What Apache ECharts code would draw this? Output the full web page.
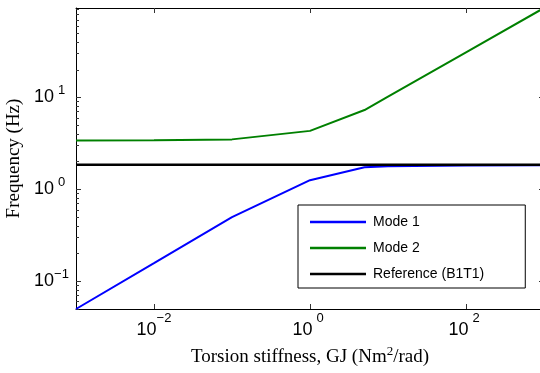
<!DOCTYPE html>
<html>
<head>
<meta charset="utf-8">
<script src="https://cdn.jsdelivr.net/npm/echarts@6/dist/echarts.min.js"></script>
<style>html,body{margin:0;padding:0;background:#fff}#c{width:540px;height:373px}</style>
</head>
<body>
<div id="c"></div>
<script>
// ---- data ----
const gj = [0.001, 0.01, 0.1, 1, 5, 10, 100, 1000];
const mode1 = [0.05, 0.158, 0.50, 1.26, 1.74, 1.79, 1.82, 1.83];
const mode2 = [3.41, 3.43, 3.50, 4.33, 7.3, 10.2, 31.0, 94];
const refGJ = [0.001, 1000];
const refFreq = [1.85, 1.85];
const seriesNames = ['Mode 1', 'Mode 2', 'Reference (B1T1)'];
const xTickValues = [0.01, 1, 100];
const yTickValues = [0.1, 1, 10];
const yMinorTickValues = [0.05,0.06,0.07,0.08,0.09,0.2,0.3,0.4,0.5,0.6,0.7,0.8,0.9,2,3,4,5,6,7,8,9,20,30,40,50,60,70,80,90];
const xRange = [0.001, 1000];
const yRange = [0.05, 94];

const pairs = (xs, ys) => xs.map((x, i) => [x, ys[i]]);
const SANS = '"Liberation Sans", Arial, Helvetica, sans-serif';
const SERIF = '"Liberation Serif", "Times New Roman", serif';

const powLabel = v => {
  const e = Math.round(Math.log10(v));
  return '{b|10}{s|' + (e < 0 ? '\u2212' + (-e) : e) + '}';
};
const makeRich = raise => ({
  b: { fontFamily: SANS, fontSize: 18, height: 18, color: '#000' },
  s: { fontFamily: SANS, fontSize: 13, height: 13, padding: [0, 0, 2 * raise, 0], width: 15, align: 'left', color: '#000' }
});

const axisLine = { show: true, lineStyle: { color: '#000', width: 1 } };

const option = {
  animation: false,
  backgroundColor: '#fff',
  grid: { left: 76, top: 8, right: -4, bottom: 64, containLabel: false, outerBoundsMode: 'none' },
  xAxis: [
    {
      type: 'log', logBase: 10, min: xRange[0], max: xRange[1], position: 'bottom',
      axisLine: axisLine,
      axisTick: { show: true, inside: true, length: 5, lineStyle: { color: '#333' }, customValues: xTickValues },
      axisLabel: { margin: 3, formatter: powLabel, rich: makeRich(12), customValues: xTickValues },
      splitLine: { show: false },
      name: '{a|Torsion stiffness, GJ (Nm}{s|2}{a|/rad)}',
      nameLocation: 'middle', nameGap: 36,
      nameTextStyle: {
        rich: {
          a: { fontFamily: SERIF, fontSize: 19, height: 19, color: '#000' },
          s: { fontFamily: SERIF, fontSize: 13, height: 13, padding: [0, 0, 12, 0], color: '#000' }
        }
      }
    },
    {
      type: 'log', logBase: 10, min: xRange[0], max: xRange[1], position: 'top',
      axisLine: axisLine,
      axisTick: { show: true, inside: true, length: 5, lineStyle: { color: '#333' }, customValues: xTickValues },
      axisLabel: { show: false },
      splitLine: { show: false }
    }
  ],
  yAxis: [
    {
      type: 'log', logBase: 10, min: yRange[0], max: yRange[1], position: 'left',
      axisLine: axisLine,
      axisTick: { show: true, inside: true, length: 5, lineStyle: { color: '#333' }, customValues: yTickValues },
      axisLabel: { margin: 7, formatter: powLabel, rich: makeRich(7), customValues: yTickValues },
      splitLine: { show: false },
      name: 'Frequency (Hz)', nameLocation: 'middle', nameGap: 42,
      nameTextStyle: { fontFamily: SERIF, fontSize: 19, color: '#000' }
    },
    {
      type: 'log', logBase: 10, min: yRange[0], max: yRange[1], position: 'left',
      axisLine: { show: false },
      axisTick: { show: true, inside: true, length: 3, lineStyle: { color: '#333' }, customValues: yMinorTickValues },
      axisLabel: { show: false },
      splitLine: { show: false }
    },
    {
      type: 'log', logBase: 10, min: yRange[0], max: yRange[1], position: 'right',
      axisLine: axisLine,
      axisTick: { show: true, inside: true, length: 5, lineStyle: { color: '#333' }, customValues: yTickValues },
      axisLabel: { show: false },
      splitLine: { show: false }
    }
  ],
  legend: {
    left: 298, top: 205, orient: 'vertical',
    padding: [10, 41, 7, 12],
    backgroundColor: '#fff', borderColor: '#000', borderWidth: 1,
    icon: 'rect', itemWidth: 56, itemHeight: 2.5, itemGap: 12,
    textStyle: { fontFamily: SANS, fontSize: 14, color: '#000', padding: [0, 0, 0, 2] },
    data: seriesNames
  },
  series: [
    { name: seriesNames[0], type: 'line', xAxisIndex: 0, yAxisIndex: 0, data: pairs(gj, mode1), showSymbol: false, symbol: 'none', lineStyle: { color: '#0000ff', width: 2 }, itemStyle: { color: '#0000ff' } },
    { name: seriesNames[1], type: 'line', xAxisIndex: 0, yAxisIndex: 0, data: pairs(gj, mode2), showSymbol: false, symbol: 'none', lineStyle: { color: '#008000', width: 2 }, itemStyle: { color: '#008000' } },
    { name: seriesNames[2], type: 'line', xAxisIndex: 0, yAxisIndex: 0, data: pairs(refGJ, refFreq), showSymbol: false, symbol: 'none', lineStyle: { color: '#000000', width: 2.5 }, itemStyle: { color: '#000000' } }
  ]
};
const chart = echarts.init(document.getElementById('c'), null, { renderer: 'canvas' });
chart.setOption(option);
</script>
</body>
</html>
